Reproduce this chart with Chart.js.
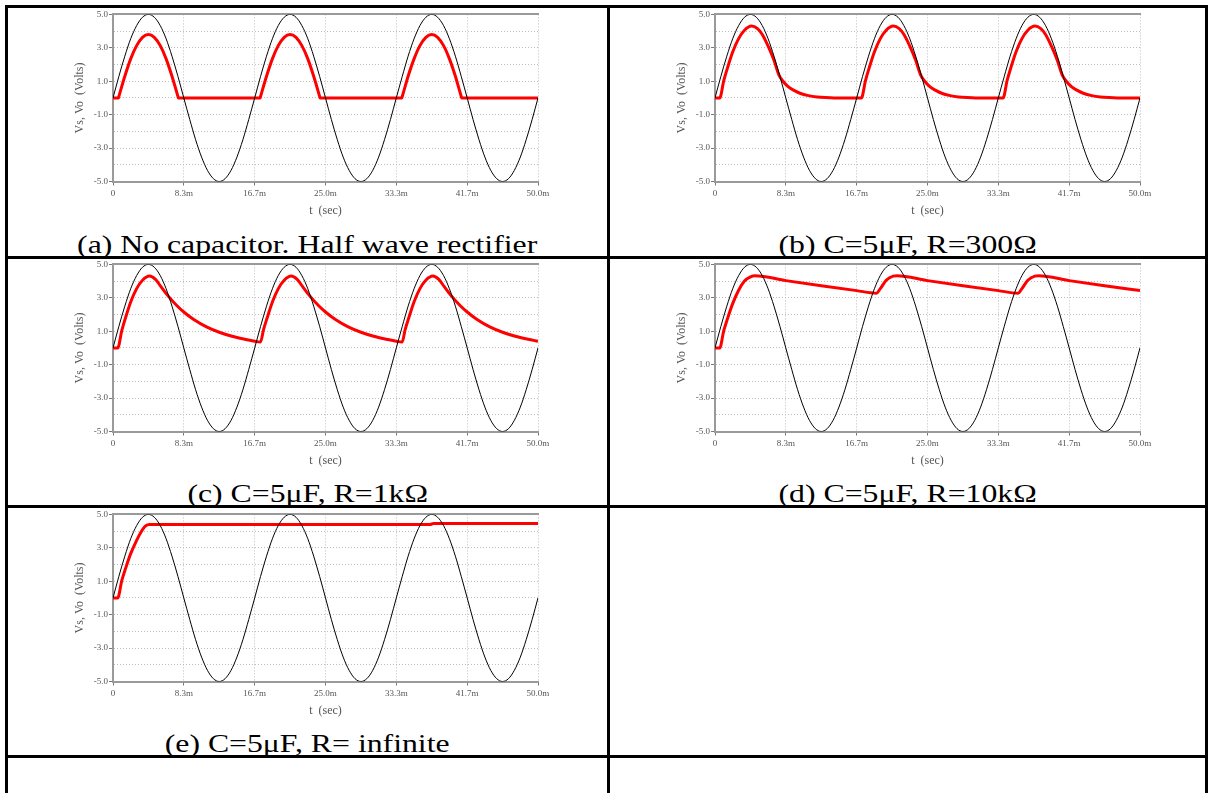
<!DOCTYPE html>
<html>
<head>
<meta charset="utf-8">
<script src="https://cdn.jsdelivr.net/npm/chart.js@4.4.0/dist/chart.umd.min.js"></script>
<style>
  body { margin:0; background:#fff; width:1209px; height:793px; overflow:hidden; position:relative; font-family:'Liberation Serif','Times New Roman',serif; }
  .line { position:absolute; background:#000; }
  canvas { position:absolute; }
  .cap { position:absolute; text-align:center; font-size:25px; line-height:25px; color:#000; white-space:nowrap; }
  .cap span { display:inline-block; transform:scaleX(1.27); }
</style>
</head>
<body>
<script>
// source voltage Vs (ms, volts) - same in every panel
const tSrc = [0,0.69,1.39,2.08,2.78,3.47,4.17,4.86,5.56,6.25,6.94,7.64,8.33,9.03,9.72,10.42,11.11,11.81,12.5,13.19,13.89,14.58,15.28,15.97,
  16.67,17.36,18.06,18.75,19.44,20.14,20.83,21.53,22.22,22.92,23.61,24.31,25,25.69,26.39,27.08,27.78,28.47,29.17,29.86,30.56,31.25,31.94,32.64,
  33.33,34.03,34.72,35.42,36.11,36.81,37.5,38.19,38.89,39.58,40.28,40.97,41.67,42.36,43.06,43.75,44.44,45.14,45.83,46.53,47.22,47.92,48.61,49.31,50];
const vSrc = [0,1.29,2.5,3.54,4.33,4.83,5,4.83,4.33,3.54,2.5,1.29,0,-1.29,-2.5,-3.54,-4.33,-4.83,-5,-4.83,-4.33,-3.54,-2.5,-1.29,
  0,1.29,2.5,3.54,4.33,4.83,5,4.83,4.33,3.54,2.5,1.29,0,-1.29,-2.5,-3.54,-4.33,-4.83,-5,-4.83,-4.33,-3.54,-2.5,-1.29,
  0,1.29,2.5,3.54,4.33,4.83,5,4.83,4.33,3.54,2.5,1.29,0,-1.29,-2.5,-3.54,-4.33,-4.83,-5,-4.83,-4.33,-3.54,-2.5,-1.29,0];

// (a) no capacitor
const tA = [0,0.64,0.69,1.39,2.08,2.78,3.47,4.17,4.86,5.56,6.25,6.94,7.64,7.69,17.31,17.36,18.06,18.75,19.44,20.14,20.83,21.53,22.22,22.92,23.61,24.31,24.36,
  33.97,34.03,34.72,35.42,36.11,36.81,37.5,38.19,38.89,39.58,40.28,40.97,41.03,50];
const vA = [0,0,0.09,1.3,2.34,3.13,3.63,3.8,3.63,3.13,2.34,1.3,0.09,0,0,0.09,1.3,2.34,3.13,3.63,3.8,3.63,3.13,2.34,1.3,0.09,0,
  0,0.09,1.3,2.34,3.13,3.63,3.8,3.63,3.13,2.34,1.3,0.09,0,0];

// (b) R = 300 ohm
const tB = [0,0.55,1.04,1.5,2.08,2.78,3.47,4.3,5.0,5.56,6.25,6.94,7.5,8.0,8.6,9.3,10.0,11.0,12.0,13.0,14.0,
  17.22,17.71,18.17,18.75,19.45,20.14,20.97,21.67,22.23,22.92,23.61,24.17,24.67,25.27,25.97,26.67,27.67,28.67,29.67,30.67,
  33.89,34.37,34.83,35.41,36.11,36.8,37.63,38.33,38.89,39.58,40.27,40.83,41.33,41.93,42.63,43.33,44.33,45.33,46.33,47.33,50];
const vB = [0,0,1.05,1.85,2.75,3.55,4.05,4.3,4.15,3.8,3.1,2.25,1.4,1.0,0.68,0.45,0.28,0.14,0.06,0.02,0,
  0,1.05,1.85,2.75,3.55,4.05,4.3,4.15,3.8,3.1,2.25,1.4,1.0,0.68,0.45,0.28,0.14,0.06,0.02,0,
  0,1.05,1.85,2.75,3.55,4.05,4.3,4.15,3.8,3.1,2.25,1.4,1.0,0.68,0.45,0.28,0.14,0.06,0.02,0,0];

// (c) R = 1k
const tC = [0,0.55,1.04,1.5,2.08,2.78,3.47,4.3,5.0,5.6,6.5,7.5,8.33,9.5,11,12.5,14,15.5,16.67,17.35,
  17.71,18.17,18.75,19.45,20.14,20.97,21.67,22.27,23.17,24.17,25,26.17,27.67,29.17,30.67,32.17,33.33,34.02,
  34.37,34.83,35.41,36.11,36.8,37.63,38.33,38.93,39.83,40.83,41.67,42.83,44.33,45.83,47.33,48.83,50];
const vC = [0,0,1.05,1.85,2.75,3.55,4.05,4.3,4.1,3.7,3.1,2.54,2.15,1.7,1.26,0.94,0.7,0.52,0.4,0.36,
  1.1,1.85,2.75,3.55,4.05,4.3,4.1,3.7,3.1,2.54,2.15,1.7,1.26,0.94,0.7,0.52,0.4,0.36,
  1.1,1.85,2.75,3.55,4.05,4.3,4.1,3.7,3.1,2.54,2.15,1.7,1.26,0.94,0.7,0.52,0.4];

// (d) R = 10k
const tD = [0,0.55,1.04,1.5,2.08,2.78,3.47,4.17,4.7,8.33,12.5,16.67,19.0,19.45,20.14,20.97,21.4,25,29.17,33.33,35.67,36.11,36.8,37.63,38.07,41.67,45.83,50];
const vD = [0,0,1.05,1.8,2.65,3.45,4.0,4.25,4.32,4.03,3.72,3.43,3.28,3.55,4.05,4.3,4.32,4.03,3.72,3.43,3.28,3.55,4.05,4.3,4.32,4.03,3.72,3.43];

// (e) R = infinite
const tE = [0,0.55,1.04,1.5,2.08,2.78,3.3,3.8,4.3,37.3,37.7,50];
const vE = [0,0,1.05,1.8,2.65,3.45,3.95,4.3,4.4,4.4,4.45,4.45];

const xTickVals = [0, 8.333, 16.667, 25, 33.333, 41.667, 50];
const xTickText = ['0','8.3m','16.7m','25.0m','33.3m','41.7m','50.0m'];
const yTickVals = [-5,-4,-3,-2,-1,0,1,2,3,4,5];
const yTickText = ['-5.0','','-3.0','','-1.0','','1.0','','3.0','','5.0'];

const captions = ['(a) No capacitor. Half wave rectifier','(b) C=5\u03bcF, R=300\u03a9','(c) C=5\u03bcF, R=1k\u03a9','(d) C=5\u03bcF, R=10k\u03a9','(e) C=5\u03bcF, R= infinite'];
const redT = [tA, tB, tC, tD, tE];
const redV = [vA, vB, vC, vD, vE];

// layout of the table
const cellX = [[8,607],[610,1205]];
const rowY = [8,258,508];
const capBase = [253,502,752];

function addLine(l, t, w, h){
  const d = document.createElement('div');
  d.className = 'line';
  d.style.left = l+'px'; d.style.top = t+'px'; d.style.width = w+'px'; d.style.height = h+'px';
  document.body.appendChild(d);
}
[5,256,505,755].forEach(y => addLine(5, y, 1203, 3));
[5,607,1205].forEach(x => addLine(x, 5, 3, 790));

Chart.defaults.font.family = "'Liberation Serif','Times New Roman',serif";

function pts(t, v){ return t.map((x,i) => ({x:x, y:v[i]})); }

function makePanel(n){
  const col = n % 2, row = Math.floor(n/2);
  const left = cellX[col][0], right = cellX[col][1];

  const cv = document.createElement('canvas');
  cv.width = 590; cv.height = 212;
  cv.style.left = left+'px'; cv.style.top = rowY[row]+'px';
  document.body.appendChild(cv);

  const cap = document.createElement('div');
  cap.className = 'cap';
  cap.style.left = left+'px'; cap.style.width = (right-left)+'px';
  cap.style.top = (capBase[row]-21)+'px';
  const sp = document.createElement('span');
  sp.textContent = captions[n];
  cap.appendChild(sp);
  document.body.appendChild(cap);

  new Chart(cv, {
    type: 'line',
    data: {
      datasets: [
        { data: pts(tSrc, vSrc), borderColor:'#000', borderWidth:1, pointRadius:0, cubicInterpolationMode:'monotone' },
        { data: pts(redT[n], redV[n]), borderColor:'#ff0000', borderWidth:3, pointRadius:0, cubicInterpolationMode:'monotone' }
      ]
    },
    options: {
      responsive:false, animation:false, devicePixelRatio:1,
      layout:{ padding:{ top:5, right:60, left:0, bottom:0 } },
      plugins:{ legend:{display:false}, tooltip:{enabled:false} },
      scales:{
        x:{
          type:'linear', min:0, max:50, position:'bottom',
          afterBuildTicks: s => { s.ticks = xTickVals.map(v => ({value:v})); },
          afterFit: s => { s.height = 38.5; },
          ticks:{ callback:(v,i) => xTickText[i], font:{size:9}, color:'#555', padding:3, maxRotation:0, autoSkip:false },
          grid:{ color:'#bdbdbd', tickColor:'#777', tickLength:4 },
          border:{ color:'#9a9a9a', width:2, dash:[1,2] },
          title:{ display:true, text:'t  (sec)', font:{size:12}, color:'#555', padding:{top:0, bottom:2} }
        },
        x2:{
          type:'linear', min:0, max:50, position:'top',
          afterFit: s => { s.height = 0; },
          ticks:{ display:false }, grid:{ display:false, drawTicks:false },
          border:{ color:'#9a9a9a', width:2 }
        },
        y:{
          min:-5, max:5,
          afterBuildTicks: s => { s.ticks = yTickVals.map(v => ({value:v})); },
          afterFit: s => { s.width = 105; },
          ticks:{ callback:(v,i) => yTickText[i], font:{size:9}, color:'#555', padding:1, autoSkip:false },
          grid:{ color:'#bdbdbd', tickColor: c => yTickText[c.index] ? '#777' : 'rgba(0,0,0,0)', tickLength:4 },
          border:{ color:'#9a9a9a', width:2, dash:[1,2] },
          title:{ display:true, text:'Vs, Vo  (Volts)', font:{size:12}, color:'#555', padding:{top:65, bottom:0} }
        }
      }
    }
  });
}

for (let n = 0; n < captions.length; n++) makePanel(n);
</script>
</body>
</html>
